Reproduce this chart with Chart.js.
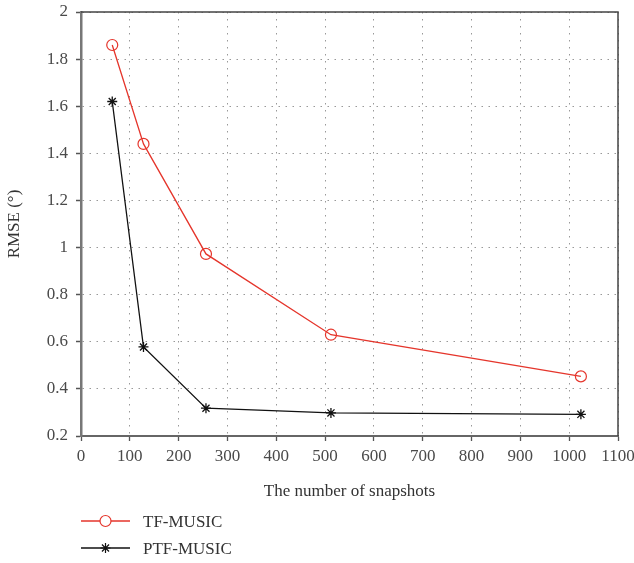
<!DOCTYPE html>
<html>
<head>
<meta charset="utf-8">
<script src="https://cdn.jsdelivr.net/npm/chart.js@4"></script>
<style>
  html, body { margin: 0; padding: 0; background: #fff; }
  #wrap { width: 634px; height: 563px; }
</style>
</head>
<body>
<div id="wrap"><canvas id="rmseChart" width="634" height="563"></canvas></div>
<script>
// snapshots vs RMSE
var snapshots = [64, 128, 256, 512, 1024];
var tfMusic = [1.86, 1.44, 0.973, 0.63, 0.453];
var ptfMusic = [1.62, 0.578, 0.318, 0.298, 0.292];
var xTicks = [0, 100, 200, 300, 400, 500, 600, 700, 800, 900, 1000, 1100];
var yTicks = [0.2, 0.4, 0.6, 0.8, 1, 1.2, 1.4, 1.6, 1.8, 2];

var serif = "'Liberation Serif', 'DejaVu Serif', serif";
var red = '#e5352b';

function pts(ys) {
  return snapshots.map(function(x, i) { return { x: x, y: ys[i] }; });
}

// box around plot + legend under the axis
var boxAndLegend = {
  id: 'boxAndLegend',
  afterDraw: function(chart) {
    var c = chart.ctx, a = chart.chartArea;
    c.save();
    c.strokeStyle = '#444';
    c.lineWidth = 1.5;
    c.beginPath();
    c.moveTo(a.left, a.top);
    c.lineTo(a.right, a.top);
    c.lineTo(a.right, a.bottom);
    c.stroke();

    var rows = [521, 548];
    chart.data.datasets.forEach(function(ds, i) {
      var y = rows[i];
      c.strokeStyle = ds.borderColor;
      c.lineWidth = 1.4;
      c.beginPath();
      c.moveTo(81, y);
      c.lineTo(130, y);
      c.stroke();
      c.fillStyle = '#fff';
      c.lineWidth = 1.2;
      Chart.helpers.drawPoint(c, { pointStyle: ds.pointStyle, radius: ds.pointRadius, borderWidth: 1.2 }, 105.5, y);
      c.fillStyle = '#333';
      c.font = '17px ' + serif;
      c.textBaseline = 'middle';
      c.fillText(ds.label, 143, y + 2);
    });
    c.restore();
  }
};

var gridOpts = { color: '#999', lineWidth: 1, tickLength: 5, tickColor: '#555', tickBorderDash: [1, 0], tickWidth: 1.3 };

new Chart(document.getElementById('rmseChart'), {
  type: 'line',
  data: {
    datasets: [
      {
        label: 'TF-MUSIC',
        data: pts(tfMusic),
        borderColor: red,
        backgroundColor: 'rgba(0,0,0,0)',
        borderWidth: 1.3,
        pointStyle: 'circle',
        pointRadius: 5.5,
        pointBorderWidth: 1.2,
        pointBackgroundColor: 'rgba(0,0,0,0)',
        pointBorderColor: red,
        tension: 0
      },
      {
        label: 'PTF-MUSIC',
        data: pts(ptfMusic),
        borderColor: '#111',
        backgroundColor: '#111',
        borderWidth: 1.3,
        pointStyle: 'star',
        pointRadius: 5,
        pointBorderWidth: 1.3,
        pointBorderColor: '#111',
        tension: 0
      }
    ]
  },
  options: {
    responsive: false,
    animation: false,
    layout: { padding: { top: 12, right: 16, bottom: 57, left: 0 } },
    plugins: { legend: { display: false }, tooltip: { enabled: false } },
    scales: {
      x: {
        type: 'linear',
        min: 0, max: 1100,
        afterBuildTicks: function(s) { s.ticks = xTicks.map(function(v) { return { value: v }; }); },
        afterFit: function(s) { s.height = 70; s.paddingRight = 0; s.paddingLeft = 0; },
        grid: gridOpts,
        border: { color: '#666', width: 2, dash: [1.5, 5.5] },
        ticks: { color: '#4a4a4a', font: { family: serif, size: 17 }, padding: 5, maxRotation: 0,
          callback: function(v) { return String(v); } },
        title: { display: true, text: 'The number of snapshots', color: '#333', font: { family: serif, size: 17 }, padding: { top: 4 } }
      },
      y: {
        min: 0.2, max: 2,
        afterBuildTicks: function(s) { s.ticks = yTicks.map(function(v) { return { value: v }; }); },
        afterFit: function(s) { s.width = 81; s.paddingTop = 0; s.paddingBottom = 0; },
        grid: gridOpts,
        border: { color: '#777', width: 2.5, dash: [1.5, 5.5] },
        ticks: { color: '#4a4a4a', font: { family: serif, size: 17 }, padding: 8,
          callback: function(v) { return String(+v.toFixed(1)); } },
        title: { display: true, text: 'RMSE (°)', color: '#333', font: { family: serif, size: 17 }, padding: { bottom: 0 } }
      }
    }
  },
  plugins: [boxAndLegend]
});
</script>
</body>
</html>
